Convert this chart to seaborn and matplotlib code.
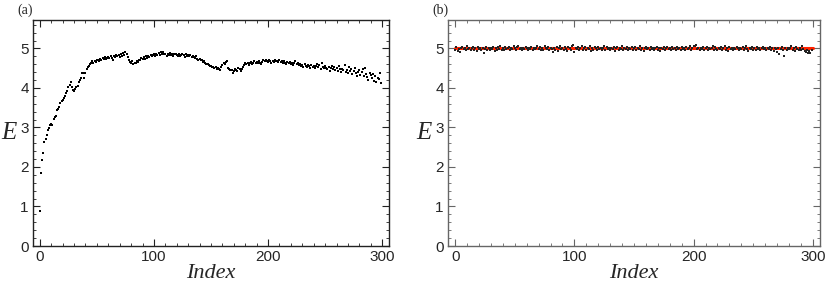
import matplotlib
matplotlib.use("Agg")
import matplotlib.pyplot as plt
import numpy as np
import pandas as pd
import seaborn as sns
from matplotlib.ticker import MultipleLocator

sns.set_style("ticks")
plt.rcParams['font.family'] = ['Liberation Sans', 'DejaVu Sans']

# Panel (a): energy per index
energy_a = [
    0.88, 1.84, 2.18, 2.36, 2.62, 2.70, 2.80, 2.93, 2.98, 3.05,
    3.08, 3.06, 3.21, 3.26, 3.28, 3.43, 3.48, 3.53, 3.62, 3.66,
    3.70, 3.75, 3.79, 3.86, 3.93, 4.02, 4.08, 4.14, 4.02, 3.96,
    3.92, 3.98, 4.03, 4.06, 4.14, 4.20, 4.24, 4.38, 4.39, 4.25,
    4.39, 4.47, 4.52, 4.56, 4.60, 4.63, 4.67, 4.64, 4.69, 4.66,
    4.70, 4.72, 4.68, 4.74, 4.71, 4.75, 4.73, 4.78, 4.74, 4.76,
    4.79, 4.75, 4.80, 4.77, 4.72, 4.81, 4.78, 4.84, 4.80, 4.83,
    4.79, 4.85, 4.82, 4.88, 4.84, 4.90, 4.86, 4.78, 4.70, 4.65,
    4.62, 4.67, 4.60, 4.64, 4.62, 4.68, 4.66, 4.72, 4.70, 4.75,
    4.73, 4.78, 4.74, 4.80, 4.76, 4.82, 4.79, 4.84, 4.80, 4.83,
    4.85, 4.81, 4.86, 4.83, 4.88, 4.84, 4.90, 4.86, 4.91, 4.85,
    4.87, 4.82, 4.86, 4.84, 4.88, 4.83, 4.86, 4.81, 4.85, 4.87,
    4.84, 4.82, 4.86, 4.80, 4.84, 4.87, 4.83, 4.79, 4.85, 4.82,
    4.84, 4.80, 4.83, 4.78, 4.82, 4.79, 4.76, 4.80, 4.74, 4.72,
    4.74, 4.70, 4.71, 4.66, 4.68, 4.63, 4.60, 4.61, 4.58, 4.56,
    4.55, 4.52, 4.54, 4.50, 4.52, 4.48, 4.50, 4.47, 4.46, 4.52,
    4.58, 4.62, 4.60, 4.66, 4.68, 4.50, 4.47, 4.45, 4.46, 4.37,
    4.43, 4.48, 4.46, 4.44, 4.50, 4.47, 4.42, 4.49, 4.52, 4.58,
    4.62, 4.60, 4.64, 4.58, 4.62, 4.66, 4.60, 4.64, 4.67, 4.62,
    4.65, 4.62, 4.68, 4.64, 4.61, 4.66, 4.70, 4.67, 4.72, 4.69,
    4.66, 4.70, 4.67, 4.64, 4.68, 4.66, 4.71, 4.67, 4.69, 4.65,
    4.70, 4.66, 4.68, 4.63, 4.67, 4.64, 4.60, 4.65, 4.62, 4.66,
    4.60, 4.64, 4.58, 4.62, 4.67, 4.60, 4.63, 4.57, 4.61, 4.55,
    4.59, 4.54, 4.60, 4.56, 4.52, 4.58, 4.55, 4.50, 4.57, 4.53,
    4.56, 4.51, 4.55, 4.60, 4.52, 4.57, 4.49, 4.62, 4.54, 4.50,
    4.55, 4.51, 4.47, 4.53, 4.44, 4.50, 4.56, 4.48, 4.52, 4.46,
    4.50, 4.42, 4.55, 4.47, 4.41, 4.49, 4.45, 4.58, 4.40, 4.46,
    4.37, 4.52, 4.43, 4.47, 4.35, 4.44, 4.50, 4.38, 4.29, 4.41,
    4.45, 4.34, 4.40, 4.47, 4.31, 4.50, 4.36, 4.27, 4.20, 4.38,
    4.33, 4.25, 4.35, 4.18, 4.29, 4.16, 4.26, 4.22, 4.37, 4.12,
]

# Panel (b): energy per index, scattered around the reference level
energy_b = [
    4.97, 5.03, 4.94, 4.99, 4.92, 5.02, 5.04, 4.98, 5.01, 4.96,
    5.05, 4.99, 5.02, 4.95, 5.00, 5.03, 4.97, 5.01, 4.93, 5.04,
    4.98, 5.02, 4.96, 5.00, 4.88, 4.99, 5.03, 4.95, 5.01, 4.97,
    5.02, 4.98, 5.04, 4.94, 5.00, 4.97, 5.03, 4.99, 5.05, 4.96,
    5.01, 4.97, 5.03, 4.98, 5.00, 5.04, 4.96, 5.02, 4.99, 5.06,
    5.01, 4.97, 5.03, 5.07, 4.99, 5.02, 4.95, 5.01, 4.98, 5.04,
    5.00, 4.97, 5.02, 4.99, 5.03, 4.96, 5.01, 4.98, 5.02, 5.05,
    4.99, 5.03, 4.97, 5.01, 4.95, 5.06, 5.00, 4.98, 5.04, 4.96,
    5.02, 4.99, 4.90, 5.01, 4.97, 5.03, 4.94, 5.00, 5.05, 4.98,
    5.02, 4.96, 5.04, 4.99, 4.93, 5.03, 5.01, 4.97, 5.05, 5.08,
    4.91, 5.02, 4.98, 5.04, 4.95, 5.01, 5.06, 4.97, 5.00, 5.03,
    4.96, 5.02, 4.99, 5.05, 4.94, 5.01, 4.97, 5.03, 5.00, 4.96,
    5.04, 4.98, 5.02, 4.95, 5.01, 5.05, 4.97, 5.03, 4.99, 5.02,
    4.96, 5.01, 4.98, 5.04, 4.93, 5.00, 5.03, 4.97, 5.02, 4.99,
    5.05, 4.96, 5.01, 4.98, 5.03, 4.95, 5.02, 4.99, 5.04, 4.97,
    5.00, 5.03, 4.96, 5.01, 4.98, 5.05, 4.97, 5.02, 4.94, 5.00,
    5.03, 4.98, 5.01, 4.96, 5.04, 4.99, 5.02, 4.95, 5.00, 5.03,
    4.97, 5.01, 4.93, 5.02, 4.99, 5.04, 4.96, 5.00, 5.03, 4.98,
    5.01, 4.96, 5.04, 4.99, 5.02, 4.95, 5.03, 4.98, 5.00, 4.97,
    5.03, 4.99, 5.01, 4.96, 5.04, 4.98, 5.02, 5.06, 4.97, 5.01,
    5.07, 5.05, 5.08, 4.98, 5.02, 4.96, 5.01, 4.99, 5.03, 4.97,
    5.00, 5.04, 4.95, 5.02, 4.98, 5.01, 5.06, 4.97, 5.03, 4.99,
    4.96, 5.02, 4.98, 5.04, 4.95, 5.01, 5.05, 4.97, 5.00, 4.94,
    5.03, 4.99, 5.02, 4.96, 5.01, 4.98, 5.04, 5.00, 4.97, 5.02,
    4.99, 5.03, 4.95, 5.01, 5.06, 4.98, 4.93, 5.02, 4.99, 5.04,
    4.97, 5.01, 4.96, 5.03, 4.99, 5.02, 4.95, 5.00, 5.04, 4.98,
    5.02, 4.97, 5.01, 4.99, 5.03, 4.96, 5.00, 4.94, 5.02, 4.98,
    4.91, 5.01, 4.87, 4.99, 5.03, 4.95, 4.80, 5.00, 4.97, 5.02,
    4.98, 5.01, 5.07, 4.96, 5.00, 4.93, 5.03, 4.98, 4.95, 5.01,
    4.97, 5.05, 4.99, 4.94, 4.90, 4.96, 4.88, 4.93, 4.89, 4.95,
]

ref_index = [0, 300]
ref_level = [5.0, 5.0]

df_a = pd.DataFrame({'index': np.arange(len(energy_a)), 'E': energy_a})
df_b = pd.DataFrame({'index': np.arange(len(energy_b)), 'E': energy_b})
df_ref = pd.DataFrame({'index': ref_index, 'E': ref_level})

W, H = 830, 287
fig = plt.figure(figsize=(W / 100, H / 100), dpi=100)
ax1 = fig.add_axes([33 / W, 1 - 246 / H, 356 / W, 226 / H])
ax2 = fig.add_axes([448 / W, 1 - 246 / H, 372 / W, 226 / H])


def style_axes(ax, frame_color):
    ax.set_xlim(-6, 306)
    ax.set_ylim(0, 5.72)
    ax.xaxis.set_major_locator(MultipleLocator(100))
    ax.xaxis.set_minor_locator(MultipleLocator(10))
    ax.yaxis.set_major_locator(MultipleLocator(1))
    ax.yaxis.set_minor_locator(MultipleLocator(0.2))
    ax.tick_params(which='both', direction='in', top=True, right=True,
                   color=frame_color, labelsize=11, pad=3)
    ax.tick_params(which='major', length=5, width=0.8)
    ax.tick_params(which='minor', length=2.5, width=0.6)
    for sp in ax.spines.values():
        sp.set_color(frame_color)
        sp.set_linewidth(1.0)
    ax.grid(False)
    ax.set_xlabel('Index', family='Liberation Serif', style='italic', fontsize=16, labelpad=0)
    ax.set_ylabel('E', family='Liberation Serif', style='italic', fontsize=18, rotation=0,
                  labelpad=8, va='center')


sns.scatterplot(data=df_a, x='index', y='E', ax=ax1, marker='s', s=3, color='black',
                linewidth=0, legend=False)
style_axes(ax1, '#222222')
ax1.text(0.0, 1.015, '(a)', transform=ax1.transAxes, family='Liberation Serif',
         fontsize=10, ha='right', va='bottom')

sns.lineplot(data=df_ref, x='index', y='E', ax=ax2, color='#ff2200', linewidth=2.2, zorder=2)
sns.scatterplot(data=df_b, x='index', y='E', ax=ax2, marker='s', s=2, color='#222222',
                linewidth=0, legend=False, zorder=3)
style_axes(ax2, '#666666')
ax2.text(0.0, 1.015, '(b)', transform=ax2.transAxes, family='Liberation Serif',
         fontsize=10, ha='right', va='bottom')

fig.savefig('out.png', dpi=100)
